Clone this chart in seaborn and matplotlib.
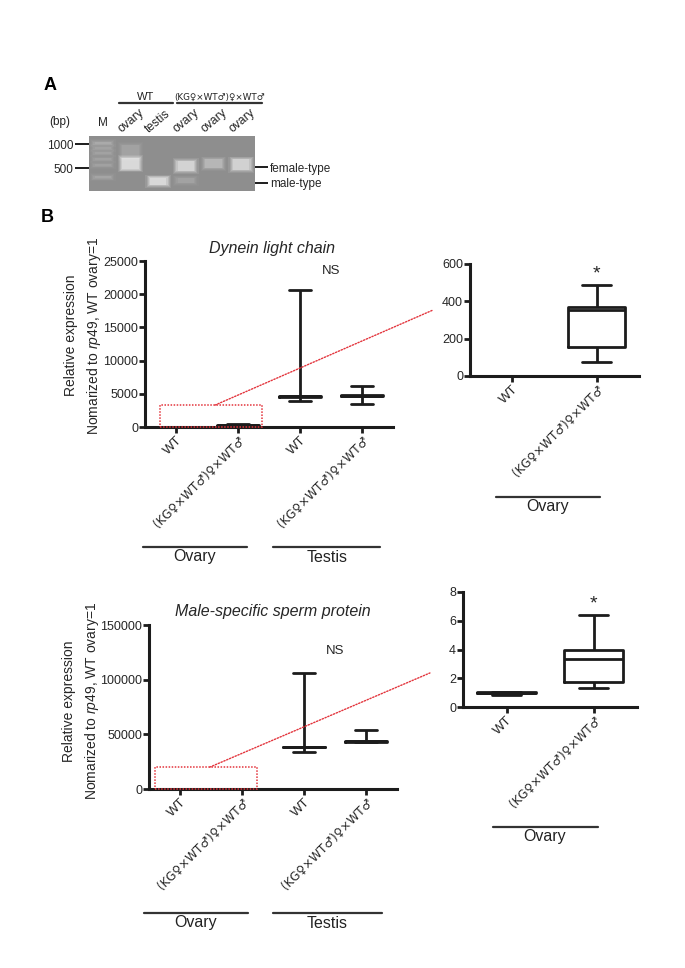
import pandas as pd
import matplotlib
matplotlib.use("Agg")
from matplotlib import pyplot as plt
from matplotlib.patches import Rectangle, ConnectionPatch
from matplotlib.lines import Line2D
from matplotlib.ticker import NullLocator
import seaborn as sns

sns.set_style("ticks")
plt.rcParams['font.family'] = ['Liberation Sans', 'DejaVu Sans']
plt.rcParams['mathtext.fontset'] = 'custom'
plt.rcParams['mathtext.rm'] = 'Liberation Sans'
plt.rcParams['mathtext.it'] = 'Liberation Sans:italic'

W, H = 685, 968
INK = "#1c1c1c"
RED = "#e3343c"
CROSS = "(KG\u2640\u00d7WT\u2642)\u2640\u00d7WT\u2642"
SYM_FONT = ['DejaVu Sans']  # Liberation draws the sex signs too small

# ---- panel A: gel (lanes and bands in bp) ----
lanes = ["M", "ovary", "testis", "ovary", "ovary", "ovary"]
marker_bp = [500, 1000]
band_lane = [0, 0, 0, 0, 0, 0, 1, 1, 2, 3, 3, 4, 5]
band_lo = [1000, 865, 745, 630, 530, 372, 667, 480, 310, 465, 328, 505, 478]
band_hi = [1050, 905, 785, 660, 555, 395, 960, 660, 380, 605, 370, 640, 640]
band_glow = [0.3, 0.22, 0.22, 0.2, 0.2, 0.25, 0.22, 1.0, 1.0, 0.9, 0.22, 0.45, 0.85]
type_bp = [515, 325]
type_labels = ["female-type", "male-type"]

# ---- panel B: five-number summaries ----
big_groups = ["Ovary WT", "Ovary KG", "Testis WT", "Testis KG"]
big_ticklabels = ["WT", CROSS, "WT", CROSS]
dlc_ovary_wt = [0.8, 0.9, 1.0, 1.1, 1.2]
dlc_ovary_kg = [73, 158, 355, 369, 485]
dlc_testis_wt = [3900, 4500, 4600, 4700, 20700]
dlc_testis_kg = [3400, 4650, 4700, 4750, 6200]
msp_ovary_wt = [0.85, 0.98, 1.0, 1.04, 1.05]
msp_ovary_kg = [1.30, 1.72, 3.34, 3.99, 6.43]
msp_testis_wt = [33800, 38000, 38300, 38600, 106500]
msp_testis_kg = [42600, 42800, 44000, 44200, 53900]


def long_df(names, series):
    rows = []
    for n, s in zip(names, series):
        for v in s:
            rows.append((n, v))
    return pd.DataFrame(rows, columns=["group", "value"])


def fx(x):
    return x / W


def fy(y):
    return 1 - y / H


def fig_line(fig, x0, x1, y, lw=1.6):
    fig.add_artist(Line2D([fx(x0), fx(x1)], [fy(y), fy(y)], color="#333333", lw=lw))


def fig_text(fig, x, y, s, **kw):
    kw.setdefault("color", "#222222")
    fig.text(fx(x), fy(y), s, ha="center", va="center", **kw)


def style_axes(ax, ticklabels, ticks):
    sns.despine(ax=ax)
    for s in ["left", "bottom"]:
        ax.spines[s].set_linewidth(2.2)
        ax.spines[s].set_color(INK)
    ax.tick_params(axis="both", direction="out", length=4, width=2, color=INK,
                   labelsize=9, pad=1)
    ax.set_yticks(ticks)
    ax.set_xticks(range(len(ticklabels)))
    ax.set_xticklabels(ticklabels, rotation=45, ha="right", va="top",
                       rotation_mode="anchor")
    for t in ax.get_xticklabels():
        if t.get_text() != "WT":
            t.set_fontfamily(SYM_FONT)
            t.set_fontsize(8.6)
        else:
            t.set_fontsize(9.5)
    ax.set_xlabel("")
    ax.set_ylabel("")


def boxes(ax, names, series):
    df = long_df(names, series)
    sns.boxplot(data=df, x="group", y="value", order=names, whis=(0, 100),
                fill=False, color=INK, linewidth=2, width=0.68, ax=ax)


fig = plt.figure(figsize=(6.85, 9.68), dpi=100)

# ---------------- panel A ----------------
gel = fig.add_axes([fx(89), fy(191), 166 / W, 55 / H])
gel.set_facecolor("#8e8e8e")
gel.set_yscale("log")
# each band drawn as nested soft layers so it looks blurred
layers = [(0.92, 1.09, 0.10), (0.84, 1.06, 0.14), (0.76, 1.035, 0.2),
          (0.68, 1.015, 0.25), (0.6, 1.0, 0.3)]
for lane, lo, hi, g in zip(band_lane, band_lo, band_hi, band_glow):
    for wdt, grow, a in layers:
        gel.bar(lane, hi * grow - lo / grow, bottom=lo / grow, width=wdt,
                color="white", alpha=a * g, linewidth=0)
gel.set_xlim(-0.5, 5.5)
gel.set_ylim(258, 1260)
gel.set_xticks([])
gel.set_yticks(marker_bp, [str(b) for b in marker_bp])
gel.yaxis.set_minor_locator(NullLocator())
gel.tick_params(axis="y", length=10, width=1.4, color=INK, labelsize=8.5, pad=1)
for s in gel.spines.values():
    s.set_visible(False)
gr = gel.twinx()
gr.set_yscale("log")
gr.set_ylim(258, 1260)
gr.set_yticks(type_bp, type_labels)
gr.yaxis.set_minor_locator(NullLocator())
gr.tick_params(axis="y", length=9, width=1.4, color=INK, labelsize=8.5, pad=2)
for s in gr.spines.values():
    s.set_visible(False)

for i, name in enumerate(lanes):
    if i == 0:
        gel.text(i, 1.24, name, transform=gel.get_xaxis_transform(),
                 ha="center", va="center", fontsize=8.5)
    else:
        gel.text(i - 0.32, 1.06, name, transform=gel.get_xaxis_transform(),
                 rotation=40, rotation_mode="anchor", ha="left", va="baseline",
                 fontsize=8.8)
fig_text(fig, 60, 122, "(bp)", fontsize=8.5)
fig_text(fig, 146, 97, "WT", fontsize=8)
fig_line(fig, 119, 173, 103)
fig_text(fig, 220, 97, CROSS, fontsize=6.3, family=SYM_FONT)
fig_line(fig, 177, 262, 103)
fig_text(fig, 50, 85, "A", fontsize=13, fontweight="bold", color="black")
fig_text(fig, 47, 218, "B", fontsize=13, fontweight="bold", color="black")

# ---------------- panel B: dynein light chain ----------------
ax1 = fig.add_axes([fx(145), fy(427), 248 / W, 166 / H])
boxes(ax1, big_groups, [dlc_ovary_wt, dlc_ovary_kg, dlc_testis_wt, dlc_testis_kg])
style_axes(ax1, big_ticklabels, range(0, 25001, 5000))
ax1.set_ylim(0, 25000)
ax1.set_xlim(-0.5, 3.5)
ax1.set_ylabel("Relative expression\nNomarized to $\\mathit{rp49}$, WT ovary=1",
               fontsize=10, linespacing=1.5)
ax1.yaxis.set_label_coords(-0.17, 0.55)
ax1.text(0.512, 1.075, "Dynein light chain", transform=ax1.transAxes,
         ha="center", va="center", fontsize=11.5, style="italic")
ax1.text(2.5, 23500, "NS", ha="center", va="center", fontsize=9.5)
ax1.add_patch(Rectangle((-0.26, 0), 1.65, 3300, fill=False, ec=RED, lw=1.1,
                        ls=(0, (1, 1)), clip_on=False, zorder=5))

in1 = fig.add_axes([fx(470), fy(376), 169 / W, 112 / H])
boxes(in1, big_groups[:2], [dlc_ovary_wt, dlc_ovary_kg])
style_axes(in1, big_ticklabels[:2], range(0, 601, 200))
in1.set_ylim(0, 600)
in1.set_xlim(-0.5, 1.5)
in1.text(1, 545, "*", ha="center", va="center", fontsize=14)
fig.add_artist(ConnectionPatch(xyA=(0.63, 3300), coordsA=ax1.transData,
                               xyB=(-0.219, 0.589), coordsB=in1.transAxes,
                               color=RED, lw=1.0, ls=(0, (1, 1.2))))

fig_line(fig, 143, 247, 547)
fig_line(fig, 273, 380, 547)
fig_text(fig, 195, 557, "Ovary", fontsize=11.5)
fig_text(fig, 327, 557, "Testis", fontsize=11.5)
fig_line(fig, 496, 600, 497)
fig_text(fig, 548, 507, "Ovary", fontsize=11.5)

# ---------------- panel B: male-specific sperm protein ----------------
ax2 = fig.add_axes([fx(149), fy(789), 248 / W, 164 / H])
boxes(ax2, big_groups, [msp_ovary_wt, msp_ovary_kg, msp_testis_wt, msp_testis_kg])
style_axes(ax2, big_ticklabels, range(0, 150001, 50000))
ax2.set_ylim(0, 150000)
ax2.set_xlim(-0.5, 3.5)
ax2.set_ylabel("Relative expression\nNomarized to $\\mathit{rp49}$, WT ovary=1",
               fontsize=10, linespacing=1.5)
ax2.yaxis.set_label_coords(-0.195, 0.537)
ax2.text(0.5, 1.08, "Male-specific sperm protein", transform=ax2.transAxes,
         ha="center", va="center", fontsize=11.5, style="italic")
ax2.text(2.5, 126000, "NS", ha="center", va="center", fontsize=9.5)
ax2.add_patch(Rectangle((-0.4, 0), 1.64, 20000, fill=False, ec=RED, lw=1.1,
                        ls=(0, (1, 1)), clip_on=False, zorder=5))

in2 = fig.add_axes([fx(463), fy(707), 174 / W, 115 / H])
boxes(in2, big_groups[:2], [msp_ovary_wt, msp_ovary_kg])
style_axes(in2, big_ticklabels[:2], range(0, 9, 2))
in2.set_ylim(0, 8)
in2.set_xlim(-0.5, 1.5)
in2.text(1, 7.15, "*", ha="center", va="center", fontsize=14)
fig.add_artist(ConnectionPatch(xyA=(0.48, 20000), coordsA=ax2.transData,
                               xyB=(-0.19, 0.296), coordsB=in2.transAxes,
                               color=RED, lw=1.0, ls=(0, (1, 1.2))))

fig_line(fig, 144, 248, 913)
fig_line(fig, 273, 382, 913)
fig_text(fig, 196, 923, "Ovary", fontsize=11.5)
fig_text(fig, 327, 923, "Testis", fontsize=11.5)
fig_line(fig, 493, 598, 827)
fig_text(fig, 545, 837, "Ovary", fontsize=11.5)

fig.savefig("out.png", dpi=100)
